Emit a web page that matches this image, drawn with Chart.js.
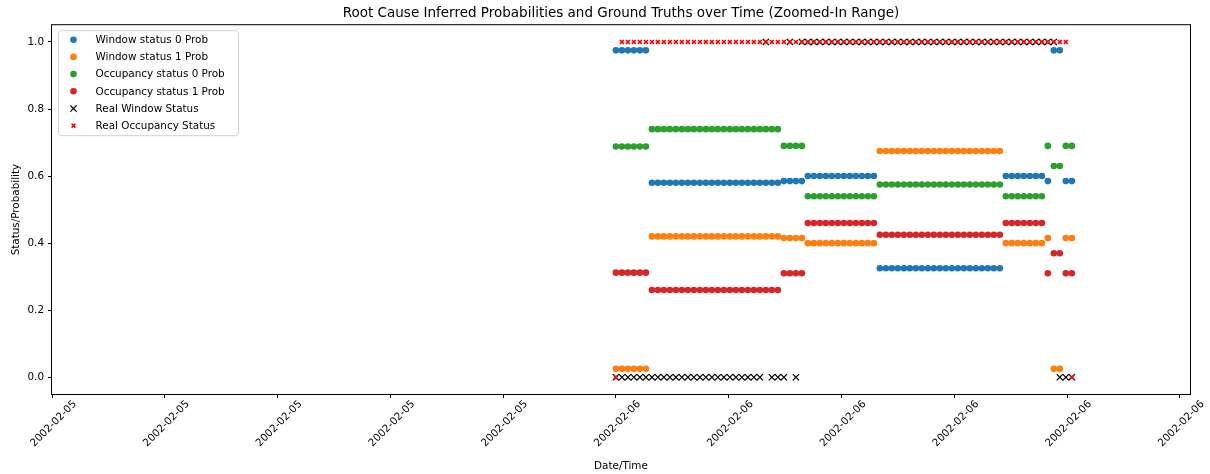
<!DOCTYPE html>
<html>
<head>
<meta charset="utf-8">
<title>Root Cause Inferred Probabilities</title>
<script src="https://cdn.jsdelivr.net/npm/chart.js"></script>
<style>
  html, body { margin: 0; padding: 0; background: #fff; }
  #wrap { width: 1210px; height: 474px; }
</style>
</head>
<body>
<div id="wrap"><canvas id="myChart" width="1210" height="474"></canvas></div>
<script>
// x ticks: one label per tick, sample steps between ticks
var xTickLabels = ['2002-02-05', '2002-02-05', '2002-02-05', '2002-02-05', '2002-02-05',
                   '2002-02-06', '2002-02-06', '2002-02-06', '2002-02-06', '2002-02-06', '2002-02-06'];
var xTickStart = -94;     // first tick, in samples
var xTickStep = 18.8;     // samples per tick
var xMin = -94, xMax = 95.7;

var yTickValues = [0, 0.2, 0.4, 0.6, 0.8, 1.0];

// inferred probabilities, one value per sample (77 samples)
var win0Prob = [
  0.975, 0.975, 0.975, 0.975, 0.975, 0.975,
  0.58, 0.58, 0.58, 0.58, 0.58, 0.58, 0.58, 0.58, 0.58, 0.58, 0.58,
  0.58, 0.58, 0.58, 0.58, 0.58, 0.58, 0.58, 0.58, 0.58, 0.58, 0.58,
  0.585, 0.585, 0.585, 0.585,
  0.60, 0.60, 0.60, 0.60, 0.60, 0.60, 0.60, 0.60, 0.60, 0.60, 0.60, 0.60,
  0.325, 0.325, 0.325, 0.325, 0.325, 0.325, 0.325, 0.325, 0.325, 0.325, 0.325,
  0.325, 0.325, 0.325, 0.325, 0.325, 0.325, 0.325, 0.325, 0.325, 0.325,
  0.60, 0.60, 0.60, 0.60, 0.60, 0.60, 0.60,
  0.585,
  0.975, 0.975,
  0.585, 0.585
];
var win1Prob = [
  0.025, 0.025, 0.025, 0.025, 0.025, 0.025,
  0.42, 0.42, 0.42, 0.42, 0.42, 0.42, 0.42, 0.42, 0.42, 0.42, 0.42,
  0.42, 0.42, 0.42, 0.42, 0.42, 0.42, 0.42, 0.42, 0.42, 0.42, 0.42,
  0.415, 0.415, 0.415, 0.415,
  0.40, 0.40, 0.40, 0.40, 0.40, 0.40, 0.40, 0.40, 0.40, 0.40, 0.40, 0.40,
  0.675, 0.675, 0.675, 0.675, 0.675, 0.675, 0.675, 0.675, 0.675, 0.675, 0.675,
  0.675, 0.675, 0.675, 0.675, 0.675, 0.675, 0.675, 0.675, 0.675, 0.675,
  0.40, 0.40, 0.40, 0.40, 0.40, 0.40, 0.40,
  0.415,
  0.025, 0.025,
  0.415, 0.415
];
var occ0Prob = [
  0.688, 0.688, 0.688, 0.688, 0.688, 0.688,
  0.74, 0.74, 0.74, 0.74, 0.74, 0.74, 0.74, 0.74, 0.74, 0.74, 0.74,
  0.74, 0.74, 0.74, 0.74, 0.74, 0.74, 0.74, 0.74, 0.74, 0.74, 0.74,
  0.69, 0.69, 0.69, 0.69,
  0.54, 0.54, 0.54, 0.54, 0.54, 0.54, 0.54, 0.54, 0.54, 0.54, 0.54, 0.54,
  0.575, 0.575, 0.575, 0.575, 0.575, 0.575, 0.575, 0.575, 0.575, 0.575, 0.575,
  0.575, 0.575, 0.575, 0.575, 0.575, 0.575, 0.575, 0.575, 0.575, 0.575,
  0.54, 0.54, 0.54, 0.54, 0.54, 0.54, 0.54,
  0.69,
  0.63, 0.63,
  0.69, 0.69
];
var occ1Prob = [
  0.312, 0.312, 0.312, 0.312, 0.312, 0.312,
  0.26, 0.26, 0.26, 0.26, 0.26, 0.26, 0.26, 0.26, 0.26, 0.26, 0.26,
  0.26, 0.26, 0.26, 0.26, 0.26, 0.26, 0.26, 0.26, 0.26, 0.26, 0.26,
  0.31, 0.31, 0.31, 0.31,
  0.46, 0.46, 0.46, 0.46, 0.46, 0.46, 0.46, 0.46, 0.46, 0.46, 0.46, 0.46,
  0.425, 0.425, 0.425, 0.425, 0.425, 0.425, 0.425, 0.425, 0.425, 0.425, 0.425,
  0.425, 0.425, 0.425, 0.425, 0.425, 0.425, 0.425, 0.425, 0.425, 0.425,
  0.46, 0.46, 0.46, 0.46, 0.46, 0.46, 0.46,
  0.31,
  0.37, 0.37,
  0.31, 0.31
];

// ground truths
var realWindow = [
  0, 0, 0, 0, 0, 0, 0, 0, 0, 0, 0, 0, 0, 0, 0, 0, 0, 0, 0, 0, 0, 0, 0, 0, 0,
  1,
  0, 0, 0,
  1,
  0,
  1, 1, 1, 1, 1, 1, 1, 1, 1, 1, 1,
  1, 1, 1, 1, 1, 1, 1, 1, 1, 1, 1,
  1, 1, 1, 1, 1, 1, 1, 1, 1, 1, 1,
  1, 1, 1, 1, 1, 1, 1, 1, 1, 1,
  0, 0, 0
];
var realOccupancy = [
  0,
  1, 1, 1, 1, 1, 1, 1, 1, 1, 1, 1, 1, 1, 1, 1,
  1, 1, 1, 1, 1, 1, 1, 1, 1, 1, 1, 1, 1, 1, 1,
  1, 1, 1, 1, 1, 1, 1, 1, 1, 1, 1, 1, 1, 1, 1,
  1, 1, 1, 1, 1, 1, 1, 1, 1, 1, 1, 1, 1, 1, 1,
  1, 1, 1, 1, 1, 1, 1, 1, 1, 1, 1, 1, 1, 1, 1,
  0
];

function toPoints(vals) {
  return vals.map(function (v, i) { return { x: i, y: v }; });
}

Chart.defaults.font.family = '"DejaVu Sans", sans-serif';
Chart.defaults.color = '#000';

// matplotlib style box around the axes
var frame = {
  id: 'frame',
  afterDatasetsDraw: function (chart) {
    var ctx = chart.ctx, a = chart.chartArea;
    ctx.save();
    ctx.strokeStyle = '#000';
    ctx.lineWidth = 1;
    ctx.strokeRect(a.left - 0.5, a.top - 0.5, a.right - a.left + 1, a.bottom - a.top + 1);
    ctx.restore();
  }
};

// legend in the upper left corner
var legendBox = {
  id: 'legendBox',
  afterDraw: function (chart) {
    var ctx = chart.ctx, a = chart.chartArea;
    var x0 = a.left + 6.5, y0 = a.top + 5.5, w = 180, h = 105, r = 3;
    ctx.save();
    ctx.beginPath();
    ctx.moveTo(x0 + r, y0);
    ctx.lineTo(x0 + w - r, y0);
    ctx.arcTo(x0 + w, y0, x0 + w, y0 + r, r);
    ctx.lineTo(x0 + w, y0 + h - r);
    ctx.arcTo(x0 + w, y0 + h, x0 + w - r, y0 + h, r);
    ctx.lineTo(x0 + r, y0 + h);
    ctx.arcTo(x0, y0 + h, x0, y0 + h - r, r);
    ctx.lineTo(x0, y0 + r);
    ctx.arcTo(x0, y0, x0 + r, y0, r);
    ctx.closePath();
    ctx.fillStyle = 'rgba(255,255,255,0.8)';
    ctx.fill();
    ctx.strokeStyle = '#d0d0d0';
    ctx.lineWidth = 1;
    ctx.stroke();

    chart.data.datasets.forEach(function (ds, i) {
      var cx = x0 + 15, cy = y0 + 9 + i * 17.2;
      if (ds.pointStyle === 'circle') {
        ctx.beginPath();
        ctx.arc(cx, cy, ds.pointRadius, 0, Math.PI * 2);
        ctx.fillStyle = ds.backgroundColor;
        ctx.fill();
      } else {
        var d = ds.pointRadius * Math.SQRT1_2;
        ctx.beginPath();
        ctx.moveTo(cx - d, cy - d); ctx.lineTo(cx + d, cy + d);
        ctx.moveTo(cx - d, cy + d); ctx.lineTo(cx + d, cy - d);
        ctx.strokeStyle = ds.borderColor;
        ctx.lineWidth = ds.borderWidth;
        ctx.stroke();
      }
      ctx.fillStyle = '#000';
      ctx.font = '10.4px "DejaVu Sans", sans-serif';
      ctx.textBaseline = 'middle';
      ctx.textAlign = 'left';
      ctx.fillText(ds.label, x0 + 37, cy + 0.5);
    });
    ctx.restore();
  }
};

var ctx = document.getElementById('myChart').getContext('2d');
var chart = new Chart(ctx, {
  type: 'scatter',
  data: {
    datasets: [
      { label: 'Window status 0 Prob', data: toPoints(win0Prob), pointStyle: 'circle',
        backgroundColor: '#1f77b4', borderColor: '#1f77b4', borderWidth: 0, pointRadius: 3.3, order: 6 },
      { label: 'Window status 1 Prob', data: toPoints(win1Prob), pointStyle: 'circle',
        backgroundColor: '#ff7f0e', borderColor: '#ff7f0e', borderWidth: 0, pointRadius: 3.3, order: 5 },
      { label: 'Occupancy status 0 Prob', data: toPoints(occ0Prob), pointStyle: 'circle',
        backgroundColor: '#2ca02c', borderColor: '#2ca02c', borderWidth: 0, pointRadius: 3.3, order: 4 },
      { label: 'Occupancy status 1 Prob', data: toPoints(occ1Prob), pointStyle: 'circle',
        backgroundColor: '#d62728', borderColor: '#d62728', borderWidth: 0, pointRadius: 3.3, order: 3 },
      { label: 'Real Window Status', data: toPoints(realWindow), pointStyle: 'crossRot',
        backgroundColor: '#000', borderColor: '#000', borderWidth: 1.3, pointRadius: 4.4, order: 2 },
      { label: 'Real Occupancy Status', data: toPoints(realOccupancy), pointStyle: 'crossRot',
        backgroundColor: 'red', borderColor: 'red', borderWidth: 1.6, pointRadius: 2.7, order: 1 }
    ]
  },
  options: {
    responsive: false,
    animation: false,
    devicePixelRatio: 1,
    layout: { padding: { left: 0, right: 20, top: 0, bottom: 0 } },
    plugins: {
      legend: { display: false },
      tooltip: { enabled: false },
      title: {
        display: true,
        fullSize: false,
        text: 'Root Cause Inferred Probabilities and Ground Truths over Time (Zoomed-In Range)',
        color: '#000',
        font: { size: 13.5, weight: 'normal' },
        padding: { top: 5, bottom: 4 }
      }
    },
    scales: {
      x: {
        type: 'linear',
        min: xMin,
        max: xMax,
        afterBuildTicks: function (s) {
          s.ticks = xTickLabels.map(function (_, k) { return { value: xTickStart + k * xTickStep }; });
        },
        ticks: {
          autoSkip: false,
          minRotation: 45,
          maxRotation: 45,
          labelOffset: 23,
          padding: 0,
          color: '#000',
          font: { size: 10.4 },
          callback: function (v, i) { return xTickLabels[i]; }
        },
        grid: { drawOnChartArea: false, drawTicks: true, tickLength: 4, color: '#000' },
        border: { display: false },
        title: { display: true, text: 'Date/Time', color: '#000', font: { size: 10.4 }, padding: { top: 0, bottom: 1 } },
        afterFit: function (s) { s.height = 80; }
      },
      y: {
        min: -0.05,
        max: 1.05,
        afterBuildTicks: function (s) {
          s.ticks = yTickValues.map(function (v) { return { value: v }; });
        },
        ticks: {
          padding: 4,
          color: '#000',
          font: { size: 10.4 },
          callback: function (v) { return v.toFixed(1); }
        },
        grid: { drawOnChartArea: false, drawTicks: true, tickLength: 4, color: '#000' },
        border: { display: false },
        title: { display: true, text: 'Status/Probability', color: '#000', font: { size: 10.4 }, padding: { top: 10, bottom: 0 } },
        afterFit: function (s) { s.width = 52; }
      }
    }
  },
  plugins: [frame, legendBox]
});
</script>
</body>
</html>
